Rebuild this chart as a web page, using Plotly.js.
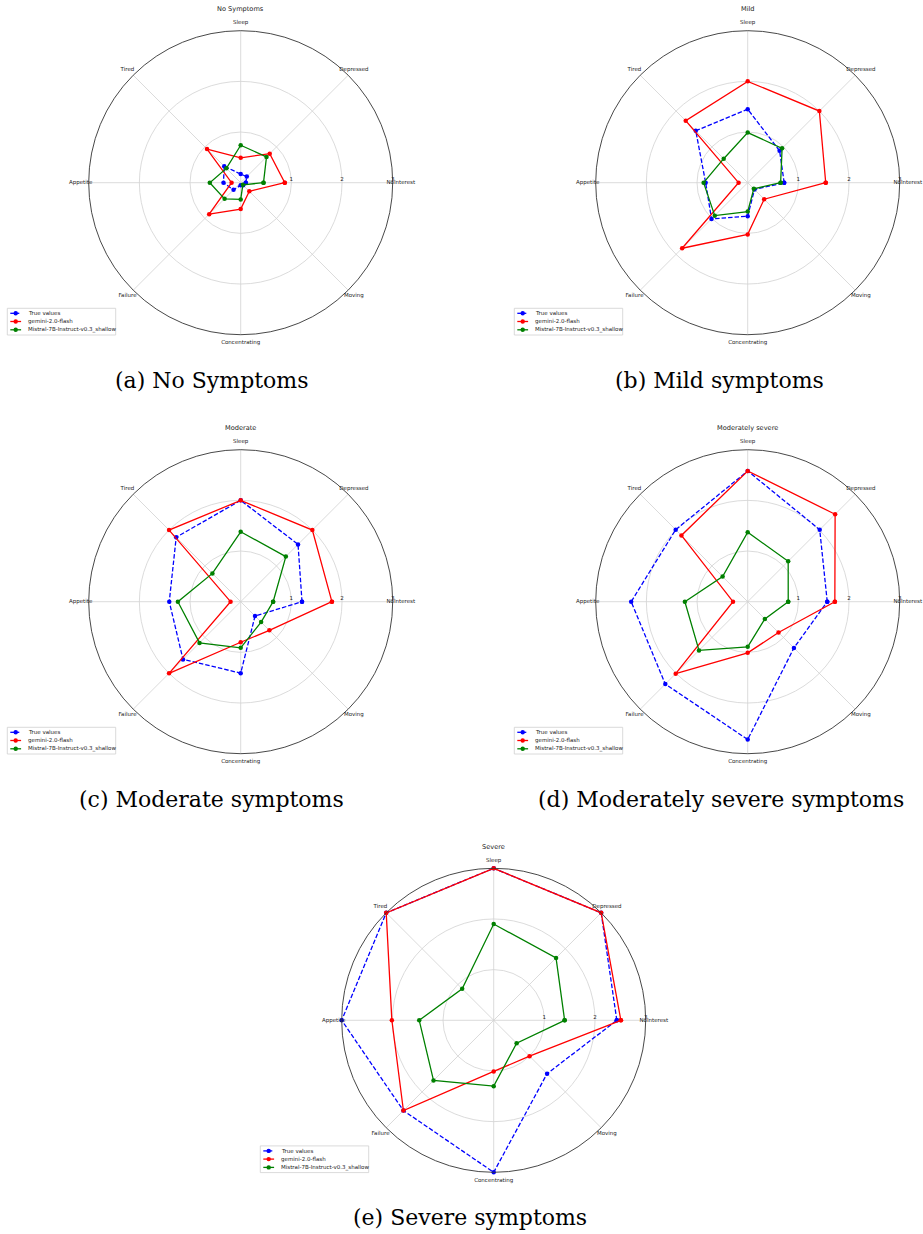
<!DOCTYPE html>
<html><head><meta charset="utf-8">
<script src="https://cdn.plot.ly/plotly-3.0.1.min.js"></script>
<style>html,body{margin:0;padding:0;background:#fff}#chart{width:923px;height:1234px}</style>
</head><body><div id="chart"></div>
<script>
// ---------- data ----------
const categories = ['NoInterest','Depressed','Sleep','Tired','Appetite','Failure','Concentrating','Moving'];
const seriesNames = ['True values','gemini-2.0-flash','Mistral-7B-Instruct-v0.3_shallow'];
const panelTitles = ['No Symptoms','Mild','Moderate','Moderately severe','Severe'];
const captions = ['(a) No Symptoms','(b) Mild symptoms','(c) Moderate symptoms','(d) Moderately severe symptoms','(e) Severe symptoms'];
const radialTicks = [1,2,3];
const radialTickText = ['1','2','3'];

const trueNone    = [0.10, 0.17, 0.17, 0.46, 0.34, 0.20, 0.05, 0.07];
const geminiNone  = [0.87, 0.81, 0.49, 0.94, 0.18, 0.88, 0.52, 0.24];
const mistralNone = [0.45, 0.72, 0.74, 0.40, 0.61, 0.45, 0.33, 0.06];

const trueMild    = [0.72, 0.89, 1.45, 1.45, 0.83, 1.01, 0.66, 0.19];
const geminiMild  = [1.54, 2.00, 2.00, 1.73, 0.18, 1.83, 1.02, 0.46];
const mistralMild = [0.65, 0.96, 0.99, 0.67, 0.87, 0.92, 0.57, 0.17];

const trueModerate    = [1.21, 1.60, 2.00, 1.80, 1.41, 1.61, 1.41, 0.40];
const geminiModerate  = [1.80, 2.00, 2.00, 2.00, 0.20, 2.00, 0.80, 0.80];
const mistralModerate = [0.64, 1.26, 1.38, 0.79, 1.24, 1.15, 0.91, 0.57];

const trueModSevere    = [1.57, 2.01, 2.58, 2.01, 2.30, 2.30, 2.72, 1.29];
const geminiModSevere  = [1.72, 2.44, 2.58, 1.85, 0.29, 2.01, 1.01, 0.86];
const mistralModSevere = [0.80, 1.13, 1.37, 0.70, 1.24, 1.36, 0.89, 0.48];

const trueSevere    = [2.43, 3.00, 3.00, 3.00, 3.00, 2.52, 3.00, 1.49];
const geminiSevere  = [2.51, 3.00, 3.00, 3.00, 2.01, 2.52, 1.01, 1.00];
const mistralSevere = [1.40, 1.74, 1.90, 0.88, 1.47, 1.68, 1.30, 0.64];

const panelValues = [
  [trueNone, geminiNone, mistralNone],
  [trueMild, geminiMild, mistralMild],
  [trueModerate, geminiModerate, mistralModerate],
  [trueModSevere, geminiModSevere, mistralModSevere],
  [trueSevere, geminiSevere, mistralSevere]
];

// ---------- layout / style ----------
const W = 923, H = 1234, R = 152;
const RMAX = 3;
const LABEL_RANGE = 3.2;     // range of the invisible label subplot
const LABEL_R = 3.16;        // radius at which category names sit
const centers = [[240.7,182.7],[747.7,182.7],[240.7,601.7],[747.7,601.7],[493.7,1020.3]];
const captionX = [211, 719, 211, 721, 470];
const colors = ['blue','red','green'];
const dashes = ['4.5px,2px','solid','solid'];
const FONT = 'DejaVu Sans, sans-serif';
const px = x => x / W, py = y => 1 - y / H;

const data = [];
const layout = {
  width: W, height: H, margin: {l:0,r:0,t:0,b:0},
  paper_bgcolor: '#fff', showlegend: false,
  font: {family: FONT, size: 5.5, color: '#222'},
  shapes: [], annotations: []
};

const angularBase = () => ({
  type: 'category', categoryorder: 'array', categoryarray: categories,
  rotation: 0, direction: 'counterclockwise', showticklabels: false, ticks: ''
});

centers.forEach((c, i) => {
  const sub = i === 0 ? 'polar' : 'polar' + (i + 1);
  const lsub = 'polar' + (i + 6);
  const [cx, cy] = c;
  layout[sub] = {
    domain: {x: [px(cx - R), px(cx + R)], y: [py(cy + R), py(cy - R)]},
    bgcolor: '#fff',
    radialaxis: {
      range: [0, RMAX], tickvals: radialTicks, ticktext: radialTickText,
      showline: false, ticks: '', angle: 0, side: 'counterclockwise',
      gridcolor: '#d2d2d2', gridwidth: 0.8,
      tickfont: {family: FONT, size: 5.5, color: '#222'}
    },
    angularaxis: Object.assign(angularBase(), {
      showline: true, linecolor: '#333', linewidth: 0.9,
      gridcolor: '#d2d2d2', gridwidth: 0.8
    })
  };
  const RL = R * LABEL_RANGE / RMAX;
  layout[lsub] = {
    domain: {x: [px(cx - RL), px(cx + RL)], y: [py(cy + RL), py(cy - RL)]},
    bgcolor: 'rgba(0,0,0,0)',
    radialaxis: {range: [0, LABEL_RANGE], visible: false, showgrid: false, showline: false, showticklabels: false},
    angularaxis: Object.assign(angularBase(), {showline: false, showgrid: false})
  };
  panelValues[i].forEach((vals, s) => {
    data.push({
      type: 'scatterpolar', subplot: sub, name: seriesNames[s],
      r: vals.concat([vals[0]]), theta: categories.concat([categories[0]]),
      mode: 'lines+markers', cliponaxis: false,
      line: {color: colors[s], width: 1.3, dash: dashes[s]},
      marker: {color: colors[s], size: 4.5}
    });
  });
  // category labels, placed through the label subplot's own scales
  data.push({
    type: 'scatterpolar', subplot: lsub, mode: 'text', cliponaxis: false,
    r: categories.map(() => LABEL_R), theta: categories, text: categories,
    textposition: 'middle center', hoverinfo: 'skip',
    textfont: {family: FONT, size: 5.5, color: '#222'}
  });
  // panel title
  layout.annotations.push({
    xref: 'paper', yref: 'paper', x: px(cx), y: py(cy - 173.4),
    text: panelTitles[i], showarrow: false, xanchor: 'center', yanchor: 'middle',
    font: {family: FONT, size: 6.6, color: '#222'}
  });
  // caption
  layout.annotations.push({
    xref: 'paper', yref: 'paper', x: px(captionX[i]), y: py(cy + 197.5),
    text: captions[i], showarrow: false, xanchor: 'center', yanchor: 'middle',
    font: {family: 'DejaVu Serif, serif', size: 22, color: '#000'}
  });
  // legend box
  layout.shapes.push({
    type: 'rect', xref: 'paper', yref: 'paper',
    x0: px(cx - 233.4), x1: px(cx - 125), y0: py(cy + 152.3), y1: py(cy + 125.6),
    line: {color: '#d0d0d0', width: 0.8}, fillcolor: 'rgba(255,255,255,0.8)'
  });
  const rowY = [130.6, 138.8, 147.1];
  seriesNames.forEach((nm, s) => {
    const y = cy + rowY[s];
    layout.shapes.push({
      type: 'line', xref: 'paper', yref: 'paper',
      x0: px(cx - 230.4), x1: px(cx - 219.6), y0: py(y), y1: py(y),
      line: {color: colors[s], width: 1.3, dash: s === 0 ? 'dash' : 'solid'}
    });
    layout.shapes.push({
      type: 'circle', xref: 'paper', yref: 'paper',
      x0: px(cx - 227.2), x1: px(cx - 222.8), y0: py(y + 2.2), y1: py(y - 2.2),
      line: {color: colors[s], width: 0}, fillcolor: colors[s]
    });
    layout.annotations.push({
      xref: 'paper', yref: 'paper', x: px(cx - 215), y: py(y),
      text: nm, showarrow: false, xanchor: 'left', yanchor: 'middle',
      font: {family: FONT, size: 5.5, color: '#222'}
    });
  });
});

Plotly.newPlot('chart', data, layout, {staticPlot: true, displayModeBar: false});
</script>
</body></html>
